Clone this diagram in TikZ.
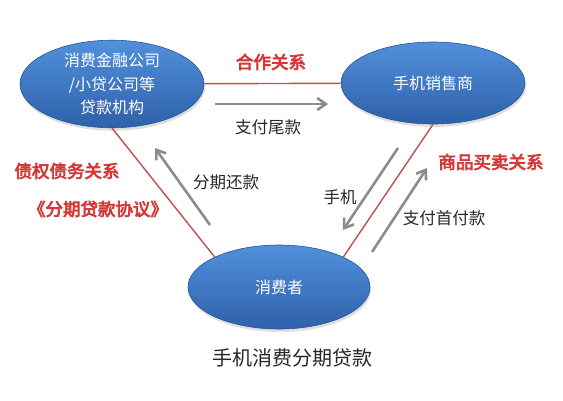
\documentclass[tikz,border=0pt]{standalone}
\usepackage{fontspec}
\setmainfont{Noto Sans CJK SC}
\newfontfamily\cjkbold[FakeBold=4]{Noto Sans CJK SC}
\usepackage{tikz}
\usetikzlibrary{arrows.meta, positioning, shapes.geometric, shadows}
\definecolor{partyblue}{RGB}{54,114,198}
\definecolor{partytop}{RGB}{82,144,220}
\definecolor{partyedge}{RGB}{38,84,150}
\definecolor{tiered}{RGB}{196,78,78}
\definecolor{labelred}{RGB}{214,56,56}
\definecolor{flowgray}{RGB}{140,140,140}

\begin{document}
\begin{tikzpicture}[
            x=1pt, y=-1pt,
            party/.style={ellipse, draw=partyedge, line width=0.6pt,
                top color=partytop, bottom color=partyblue!85!black,
                minimum width=184pt, minimum height=82pt, inner sep=0pt,
                align=center, text=white,
                font=\fontsize{16}{23.5}\selectfont,
                drop shadow={shadow xshift=1pt, shadow yshift=-3pt, opacity=0.25}},
            tie/.style={draw=tiered, line width=1.4pt},
            flow/.style={draw=flowgray, line width=2.6pt, -{Straight Barb[length=3mm, width=4.2mm]}},
            rel/.style={text=labelred, font=\cjkbold\fontsize{17.5}{19}\selectfont},
            note/.style={text=black!85, font=\fontsize{16.5}{18}\selectfont},
        ]
        \useasboundingbox (0,0) rectangle (563,400);

        % three parties
        \node[party] (lender) at (112,84) {消费金融公司\\/小贷公司等\\贷款机构};
        \node[party] (seller) at (433,83) {手机销售商};
        \node[party, minimum width=182pt, minimum height=84pt] (buyer) at (279,287) {消费者};

        % relations
        \draw[tie] (lender) -- (seller);
        \draw[tie] (lender.south) -- (buyer.155);
        \draw[tie] (seller.south) -- (buyer.25);

        \node[rel] (coop) at (271,62) {合作关系};
        \node[rel] (debt) at (67,171) {债权债务关系};
        \node[rel] (deal) at (98,209) {《分期贷款协议》};
        \node[rel] (trade) at (491,162) {商品买卖关系};

        % money and goods
        \coordinate (payA) at (215,104);
        \coordinate (payB) at (328,104);
        \coordinate (repayA) at (210,225);
        \coordinate (repayB) at (155,148);
        \coordinate (phoneA) at (398,148);
        \coordinate (phoneB) at (343,230);
        \coordinate (downA) at (372,252);
        \coordinate (downB) at (427,168);

        \draw[flow] (payA) -- (payB);
        \draw[flow] (repayA) -- (repayB);
        \draw[flow] (phoneA) -- (phoneB);
        \draw[flow] (downA) -- (downB);

        \node[note] (tail) at (268,127) {支付尾款};
        \node[note] (repay) at (226,182) {分期还款};
        \node[note] (phone) at (340,197) {手机};
        \node[note] (down) at (444,218) {支付首付款};

        \node[note, font=\fontsize{20}{22}\selectfont] (title) at (292,358) {手机消费分期贷款};
        \end{tikzpicture}
\end{document}
